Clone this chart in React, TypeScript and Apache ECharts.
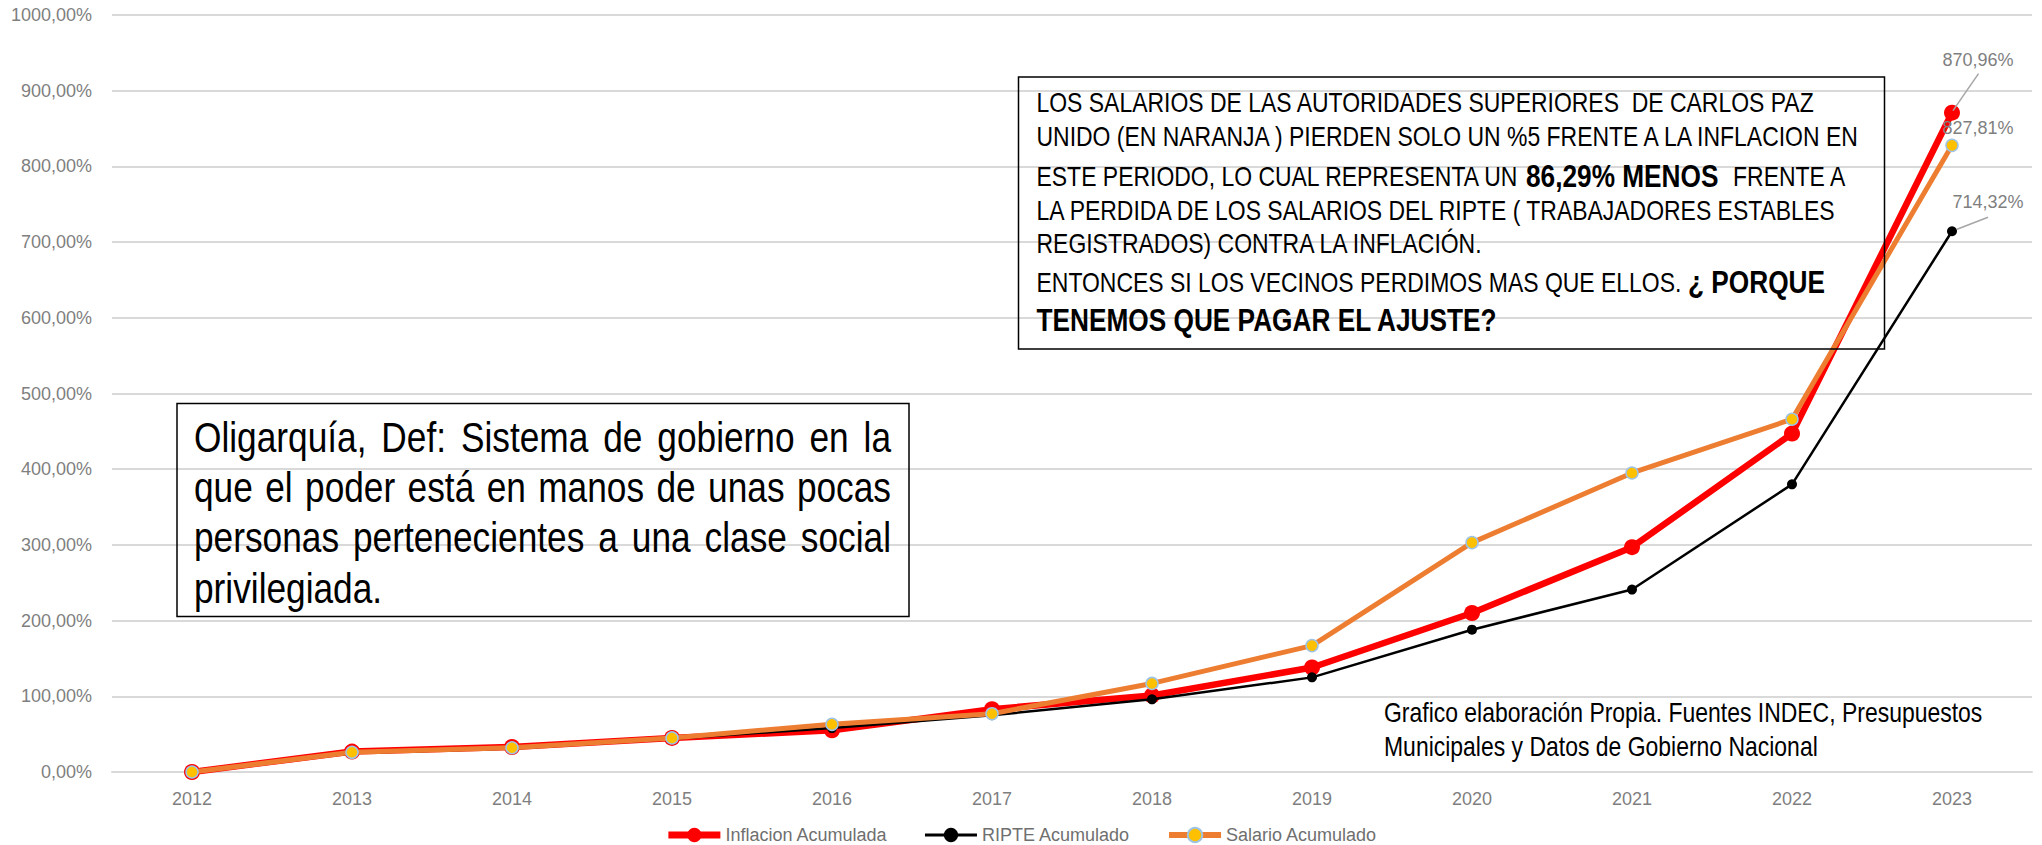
import React, { useEffect, useRef } from "react";
import * as echarts from "echarts";

const years = ["2012", "2013", "2014", "2015", "2016", "2017", "2018", "2019", "2020", "2021", "2022", "2023"];
const inflacion = [0, 27, 33, 45, 55, 83, 101, 138, 210, 297, 447, 870.96];
const ripte = [0, 25, 31, 44, 58, 75, 96, 125, 188, 241, 380, 714.32];
const salario = [0, 26, 32, 45, 63, 77, 117, 167, 303, 395, 466, 827.81];
const seriesNames = ["Inflacion Acumulada", "RIPTE Acumulado", "Salario Acumulado"];

const boxLines: [string, number, boolean][][] = [
  [["LOS SALARIOS DE LAS AUTORIDADES SUPERIORES  DE CARLOS PAZ", 28, false]],
  [["UNIDO (EN NARANJA ) PIERDEN SOLO UN %5 FRENTE A LA INFLACION EN", 28, false]],
  [["ESTE PERIODO, LO CUAL REPRESENTA UN ", 28, false], ["86,29% MENOS  ", 32, true], ["FRENTE A", 28, false]],
  [["LA PERDIDA DE LOS SALARIOS DEL RIPTE ( TRABAJADORES ESTABLES", 28, false]],
  [["REGISTRADOS) CONTRA LA INFLACIÓN.", 28, false]],
  [["ENTONCES SI LOS VECINOS PERDIMOS MAS QUE ELLOS. ", 28, false], ["¿ PORQUE", 32, true]],
  [["TENEMOS QUE PAGAR EL AJUSTE?", 32, true]],
];
const boxLineY = [102, 136.5, 176, 210, 243.5, 282, 320];

const oligLines = [
  "Oligarquía, Def: Sistema de gobierno en la",
  "que el poder está en manos de unas pocas",
  "personas pertenecientes a una clase social",
  "privilegiada.",
];
const oligLineY = [437, 486.5, 537, 588];

const footerLines = [
  "Grafico elaboración Propia. Fuentes INDEC, Presupuestos",
  "Municipales y Datos de Gobierno Nacional",
];

const NARROW = 0.82;
const FAM = '"Liberation Sans", Arial, sans-serif';
const LBL = '"Liberation Sans", Arial, sans-serif';
const GRAY = "#7f7f7f";

let ctx: CanvasRenderingContext2D | null = null;
function measure(text: string, size: number, bold: boolean) {
  if (!ctx) ctx = document.createElement("canvas").getContext("2d");
  ctx!.font = `${bold ? "bold " : ""}${size}px "Liberation Sans", Arial, sans-serif`;
  return ctx!.measureText(text).width * NARROW;
}
function txt(text: string, x: number, y: number, size: number, bold = false) {
  return {
    type: "text",
    x,
    y,
    scaleX: NARROW,
    silent: true,
    z: 100,
    style: {
      text,
      fontSize: size,
      fontFamily: FAM,
      fontWeight: bold ? "bold" : "normal",
      fill: "#000",
      align: "left",
      verticalAlign: "middle",
    },
  };
}
function segLine(segs: [string, number, boolean][], x: number, y: number) {
  let cx = x;
  const out: any[] = [];
  for (const [t, s, b] of segs) {
    out.push(txt(t, cx, y, s, b));
    cx += measure(t, s, b);
  }
  return out;
}
function justify(line: string, x0: number, x1: number, y: number, size: number) {
  const words = line.split(" ");
  const widths = words.map((w) => measure(w, size, false));
  const total = widths.reduce((a, b) => a + b, 0);
  const gap = (x1 - x0 - total) / (words.length - 1);
  let cx = x0;
  return words.map((w, i) => {
    const el = txt(w, cx, y, size);
    cx += widths[i] + gap;
    return el;
  });
}

const pct = (v: number) => v.toFixed(2).replace(".", ",") + "%";

function withLastLabel(arr: number[], offset: number[]) {
  return arr.map((v, i) =>
    i === arr.length - 1 ? { value: v, label: { show: true, position: "top", offset } } : v
  );
}

const labelBase = {
  show: false,
  formatter: (p: any) => pct(p.value),
  color: GRAY,
  fontSize: 18,
  fontFamily: LBL,
};

export default function App() {
  const ref = useRef<HTMLDivElement>(null);
  useEffect(() => {
    const chart = echarts.init(ref.current!, null, { renderer: "svg" });
    const option: any = {
      animation: false,
      backgroundColor: "#ffffff",
      grid: { left: 112, right: 10, top: 15, bottom: 73, containLabel: false },
      xAxis: {
        type: "category",
        data: years,
        boundaryGap: true,
        axisLine: { lineStyle: { color: "#d9d9d9", width: 2 } },
        axisTick: { show: false },
        axisLabel: { color: GRAY, fontSize: 18, fontFamily: LBL, margin: 18 },
        splitLine: { show: false },
      },
      yAxis: {
        type: "value",
        min: 0,
        max: 1000,
        interval: 100,
        axisLine: { show: false },
        axisTick: { show: false },
        axisLabel: { color: GRAY, fontSize: 18, fontFamily: LBL, margin: 20, formatter: (v: number) => pct(v) },
        splitLine: { lineStyle: { color: "#d9d9d9", width: 2 } },
      },
      legend: {
        data: [
          { name: seriesNames[0], lineStyle: { width: 7 } },
          { name: seriesNames[1], lineStyle: { width: 3 } },
          { name: seriesNames[2], lineStyle: { width: 6 } },
        ],
        left: "center",
        top: 821,
        itemWidth: 52,
        itemHeight: 18,
        itemGap: 36,
        textStyle: { color: "#6f6f6f", fontSize: 18, fontFamily: LBL },
      },
      series: [
        {
          name: seriesNames[0],
          type: "line",
          data: withLastLabel(inflacion, [26, -31]),
          symbol: "circle",
          symbolSize: 16,
          lineStyle: { color: "#ff0000", width: 6.5 },
          itemStyle: { color: "#ff0000" },
          label: labelBase,
          z: 2,
        },
        {
          name: seriesNames[1],
          type: "line",
          data: withLastLabel(ripte, [36, -10]),
          symbol: "circle",
          symbolSize: 10,
          lineStyle: { color: "#000000", width: 2.5 },
          itemStyle: { color: "#000000" },
          label: labelBase,
          z: 3,
        },
        {
          name: seriesNames[2],
          type: "line",
          data: withLastLabel(salario, [26, 3]),
          symbol: "circle",
          symbolSize: 12,
          lineStyle: { color: "#ed7d31", width: 5 },
          itemStyle: { color: "#ffc000", borderColor: "#9dc3e6", borderWidth: 1.5 },
          label: labelBase,
          z: 4,
        },
      ],
    };
    chart.setOption(option);

    const last = years.length - 1;
    const pR = chart.convertToPixel({ xAxisIndex: 0, yAxisIndex: 0 }, [last, inflacion[last]]) as number[];
    const pB = chart.convertToPixel({ xAxisIndex: 0, yAxisIndex: 0 }, [last, ripte[last]]) as number[];

    const graphics: any[] = [
      {
        type: "line",
        silent: true,
        z: 50,
        shape: { x1: pR[0] + 26.5, y1: pR[1] - 39, x2: pR[0] + 1, y2: pR[1] - 2 },
        style: { stroke: "#a6a6a6", lineWidth: 1.5 },
      },
      {
        type: "line",
        silent: true,
        z: 50,
        shape: { x1: pB[0] + 36, y1: pB[1] - 14, x2: pB[0] + 5, y2: pB[1] - 2 },
        style: { stroke: "#a6a6a6", lineWidth: 1.5 },
      },
      {
        type: "rect",
        silent: true,
        z: 90,
        shape: { x: 1018.5, y: 77, width: 866, height: 272 },
        style: { fill: "none", stroke: "#000", lineWidth: 1.5 },
      },
      {
        type: "rect",
        silent: true,
        z: 90,
        shape: { x: 177, y: 403.5, width: 732, height: 213 },
        style: { fill: "none", stroke: "#000", lineWidth: 1.5 },
      },
    ];
    boxLines.forEach((segs, i) => graphics.push(...segLine(segs, 1036.5, boxLineY[i])));
    oligLines.forEach((l, i) => {
      if (i < oligLines.length - 1) graphics.push(...justify(l, 194, 891, oligLineY[i], 43));
      else graphics.push(txt(l, 194, oligLineY[i], 43));
    });
    footerLines.forEach((l, i) => graphics.push(txt(l, 1384, 712 + i * 34, 28)));

    chart.setOption({ graphic: graphics });
    return () => chart.dispose();
  }, []);
  return (
    <div
      ref={ref}
      style={{ position: "absolute", left: 0, top: 0, width: 2042, height: 845, background: "#fff" }}
    />
  );
}
